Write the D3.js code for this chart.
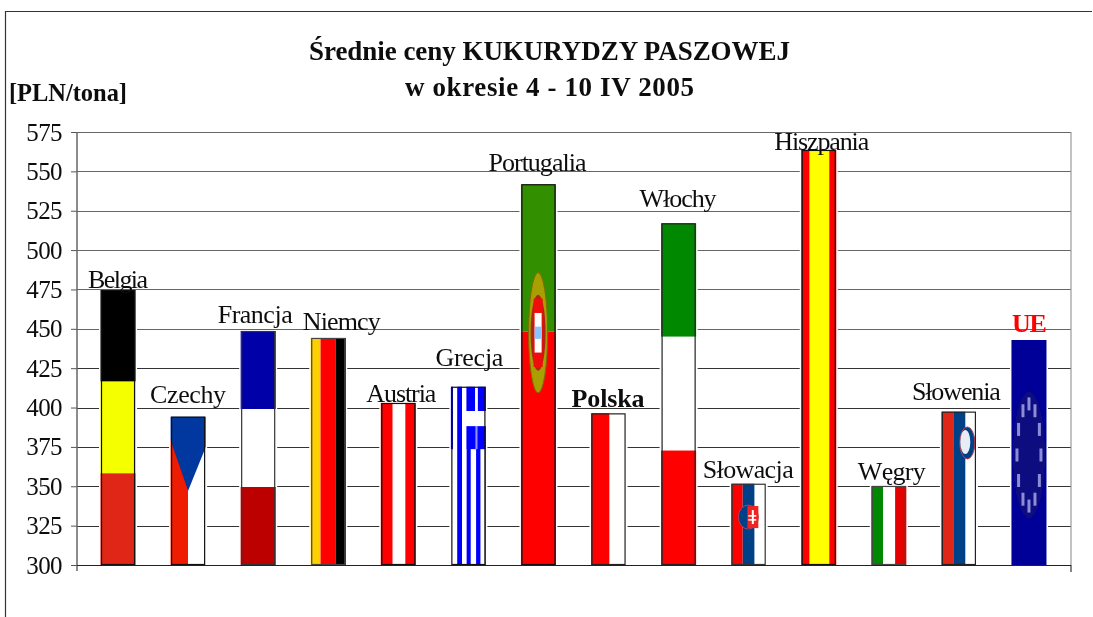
<!DOCTYPE html>
<html><head><meta charset="utf-8">
<script src="https://cdn.jsdelivr.net/npm/d3@7"></script>
<style>
html,body{margin:0;padding:0;background:#fff;overflow:hidden}
svg{display:block}
text{font-family:"Liberation Serif",serif;fill:#111}
</style></head><body>
<svg id="c" width="1093" height="617"></svg>
<script>
const categories = ["Belgia","Czechy","Francja","Niemcy","Austria","Grecja","Portugalia","Polska","Włochy","Słowacja","Hiszpania","Węgry","Słowenia","UE"];
const prices = [474.7,394.2,448.6,444.2,402.9,413.2,541.8,396.3,517,351.6,563.6,350.2,397.4,442.9];
const yTicks = [300,325,350,375,400,425,450,475,500,525,550,575];
const titleLines = ["Średnie ceny KUKURYDZY PASZOWEJ","w okresie 4 - 10 IV 2005"];
const unitLabel = "[PLN/tona]";
// label placement relative to bar: dx, baseline gap above bar top, text width
const labelDx = [0,0,-3,13.5,3,1,-1,-.5,-.5,-.5,3,3,-2.5,.5];
const labelGap = [2,13.5,8,8,1,20.5,13.5,6,16.5,6,0,6,12,8];
const labelW = [60,76,75,78,70,68,98,73,77,91,95,68,89,35];

const W=1093,H=617,L=77,R=1071,T=132,B=565;
const svg=d3.select("#c");
const defs=svg.append("defs");
defs.append("filter").attr("id","soft").attr("x","-10%").attr("y","-10%").attr("width","120%").attr("height","120%")
  .append("feGaussianBlur").attr("stdDeviation",0.55);
defs.append("filter").attr("id","softText").attr("x","-5%").attr("y","-20%").attr("width","110%").attr("height","140%")
  .append("feGaussianBlur").attr("stdDeviation",0.3);

const x=d3.scaleBand().domain(categories).range([83,1064]).paddingInner(.5).paddingOuter(.25);
const y=d3.scaleLinear().domain([300,575]).range([B,T]);

// frame
svg.append("path").attr("d",`M5.5,617V11.5H1092`).attr("fill","none").attr("stroke","#333").attr("stroke-width",1.2);

// grid
svg.append("g").selectAll("line").data(yTicks).join("line")
  .attr("x1",L).attr("x2",R).attr("y1",d=>Math.round(y(d))+.5).attr("y2",d=>Math.round(y(d))+.5)
  .attr("stroke",d=>d>=450?"#666":"#333").attr("stroke-width",1.1);
svg.append("line").attr("x1",R).attr("x2",R).attr("y1",T).attr("y2",B).attr("stroke","#999").attr("stroke-width",1.2);

// flags
const RED="#ff0000",WHITE="#ffffff",NAVY="#003f87";
function vert(g,b,stops){ // stops: [[endFraction,colour],...]
  let a=0;
  stops.forEach(([e,c])=>{
    const x0=a===0?b.x-4:b.x+a*b.w, x1=e===1?b.x+b.w+4:b.x+e*b.w;
    g.append("rect").attr("x",x0).attr("y",b.y-4).attr("width",x1-x0).attr("height",b.h+8).attr("fill",c);
    a=e;
  });
}
function horiz(g,b,stops){
  let a=0;
  stops.forEach(([e,c])=>{
    const y0=a===0?b.y-4:b.y+a*b.h, y1=e===1?b.y+b.h+4:b.y+e*b.h;
    g.append("rect").attr("x",b.x-4).attr("y",y0).attr("width",b.w+8).attr("height",y1-y0).attr("fill",c);
    a=e;
  });
}
function ell(g,cx,cy,rx,ry,fill,stroke,sw){
  g.append("ellipse").attr("cx",cx).attr("cy",cy).attr("rx",rx).attr("ry",ry).attr("fill",fill)
    .attr("stroke",stroke||"none").attr("stroke-width",sw||0);
}
function box(g,x0,y0,w,h,c){g.append("rect").attr("x",x0).attr("y",y0).attr("width",w).attr("height",h).attr("fill",c);}

const flags={
  "Belgia":(g,b)=>horiz(g,b,[[1/3,"#000"],[2/3,"#f6ff00"],[1,"#e02812"]]),
  "Czechy":(g,b)=>{
    vert(g,b,[[.5,"#ee1a00"],[1,WHITE]]);
    g.append("path").attr("fill","#0038a0").attr("d",`M${b.x-4},${b.y-4}H${b.x+b.w+4}V${b.y+.14*b.h}L${b.x+b.w/2},${b.y+.5*b.h}L${b.x-4},${b.y+.08*b.h}Z`);
  },
  "Francja":(g,b)=>horiz(g,b,[[1/3,"#0000a8"],[2/3,WHITE],[1,"#bc0000"]]),
  "Niemcy":(g,b)=>vert(g,b,[[.28,"#ffd000"],[.71,RED],[1,"#000"]]),
  "Austria":(g,b)=>vert(g,b,[[.34,RED],[.7,WHITE],[1,RED]]),
  "Grecja":(g,b)=>{
    const B1="#0000ff";
    vert(g,b,[[.18,WHITE],[.32,B1],[.45,WHITE],[.57,B1],[.72,WHITE],[.85,B1],[.98,WHITE],[1,B1]]);
    box(g,b.x-4,b.y-4,b.w*.06+4,.35*b.h+4,B1);
    box(g,b.x+.45*b.w,b.y-4,b.w*.55+4,.35*b.h+4,B1);
    box(g,b.x+.69*b.w,b.y-4,b.w*.08,.14*b.h+4,WHITE);
    box(g,b.x+.32*b.w,b.y+.136*b.h,b.w*.7+4,.085*b.h,WHITE);
    box(g,b.x+.7*b.w,b.y+.22*b.h,b.w*.06,.13*b.h,"#9090ff");
  },
  "Portugalia":(g,b)=>{
    horiz(g,b,[[.387,"#339000"],[1,RED]]);
    const cx=b.x+.49*b.w, cy=b.y+.39*b.h;
    ell(g,cx,cy,9.5,.158*b.h,"#a8a000","#806a00",1);
    ell(g,cx,cy,7.5,.1*b.h,"#b02818");
    box(g,cx-4.5,cy-.09*b.h,9,.18*b.h,"#f01008");
    box(g,cx-3.5,cy-.052*b.h,7,.104*b.h,WHITE);
    box(g,cx-3.5,cy-.016*b.h,7,.032*b.h,"#88c4ff");
  },
  "Polska":(g,b)=>vert(g,b,[[.53,RED],[1,WHITE]]),
  "Włochy":(g,b)=>horiz(g,b,[[.332,"#008800"],[.665,WHITE],[1,RED]]),
  "Słowacja":(g,b)=>{
    vert(g,b,[[.33,RED],[.67,NAVY],[1,WHITE]]);
    const cx=b.x+.49*b.w, cy=b.y+.41*b.h;
    ell(g,cx,cy,10,12,NAVY,"#b04060",1);
    box(g,cx-1,cy-11,11,22,"#f02020");
    box(g,cx+3.5,cy-7,2,14,WHITE);
    box(g,cx,cy-2,8,1.6,WHITE);
    box(g,cx,cy+2,8,1.6,WHITE);
  },
  "Hiszpania":(g,b)=>vert(g,b,[[.24,RED],[.8,"#ffff00"],[1,RED]]),
  "Węgry":(g,b)=>vert(g,b,[[.34,"#008800"],[.68,WHITE],[1,"#e40000"]]),
  "Słowenia":(g,b)=>{
    vert(g,b,[[.34,"#e02812"],[.69,NAVY],[1,WHITE]]);
    const cx=b.x+.74*b.w, cy=b.y+.204*b.h;
    ell(g,cx,cy,7.5,16,NAVY,"#c04050",1);
    ell(g,cx-2,cy-1,5,12,"#e8ecf4");
  },
  "UE":(g,b)=>{
    horiz(g,b,[[1,"#000099"]]);
    const cx=b.x+.5*b.w, cy=b.y+.511*b.h, rx=12, ry=.227*b.h;
    ell(g,cx,cy,rx+4,ry+12,"#0c0c80");
    d3.range(12).forEach(i=>{
      const a=i/12*2*Math.PI;
      box(g,cx+rx*Math.sin(a)-1.5,cy-ry*Math.cos(a)-6.5,3,13,"#8c8cd8");
    });
  }
};
const outline={"UE":null,"Belgia":"#111","Czechy":"#111","Francja":"#333","Niemcy":"#444","Austria":"#111","Grecja":"#111",
  "Portugalia":"#111","Polska":"#222","Włochy":"#222","Słowacja":"#333","Hiszpania":"#111","Węgry":"#444","Słowenia":"#222"};

const bars=svg.append("g").selectAll("g").data(categories).join("g");
bars.each(function(c,i){
  const g=d3.select(this);
  const b={x:x(c),y:y(prices[i]),w:x.bandwidth(),h:B-y(prices[i])};
  // white halo that breaks the gridlines next to each bar
  g.append("rect").attr("x",b.x-1.5).attr("y",b.y).attr("width",b.w+3).attr("height",b.h).attr("fill","#fff");
  const id="clip"+i;
  defs.append("clipPath").attr("id",id).append("rect").attr("x",b.x).attr("y",b.y).attr("width",b.w).attr("height",b.h);
  const inner=g.append("g").attr("clip-path",`url(#${id})`).append("g").attr("filter","url(#soft)");
  flags[c](inner,b);
  if(outline[c]) g.append("rect").attr("x",b.x+1).attr("y",b.y+.5).attr("width",b.w-2).attr("height",b.h-1)
    .attr("fill","none").attr("stroke",outline[c]).attr("stroke-width",1.2);
});

// axes
const yAxis=d3.axisLeft(y).tickValues(yTicks).tickSize(6).tickPadding(9);
const ga=svg.append("g").attr("transform",`translate(${L},0)`).call(yAxis);
ga.select(".domain").remove();
ga.selectAll("line").attr("stroke","#555");
ga.selectAll("text").attr("font-size",25).attr("font-family","Liberation Serif").attr("fill","#111").attr("dy","0.32em")
  .attr("letter-spacing","-0.6").attr("filter","url(#softText)");
svg.append("line").attr("x1",L).attr("x2",L).attr("y1",T).attr("y2",B+6).attr("stroke","#666").attr("stroke-width",1.5);
svg.append("line").attr("x1",L).attr("x2",R).attr("y1",B+.5).attr("y2",B+.5).attr("stroke","#222").attr("stroke-width",1.1);
svg.append("line").attr("x1",R).attr("x2",R).attr("y1",B).attr("y2",B+7).attr("stroke","#222").attr("stroke-width",1.1);

// value labels
svg.append("g").selectAll("text").data(categories).join("text")
  .attr("x",(c,i)=>x(c)+x.bandwidth()/2+labelDx[i])
  .attr("y",(c,i)=>y(prices[i])-labelGap[i])
  .attr("text-anchor","middle").attr("font-size",26)
  .attr("textLength",(c,i)=>labelW[i]).attr("lengthAdjust","spacing")
  .attr("font-weight",c=>c==="Polska"||c==="UE"?"bold":"normal")
  .style("fill",c=>c==="UE"?"#ff0000":"#111")
  .attr("filter","url(#softText)")
  .text(c=>c);

// titles
const titleY=[60,96], titleW=[481,289];
svg.append("g").selectAll("text").data(titleLines).join("text")
  .attr("x",549.5).attr("y",(d,i)=>titleY[i]).attr("text-anchor","middle")
  .attr("font-size",27).attr("font-weight","bold")
  .attr("textLength",(d,i)=>titleW[i]).attr("lengthAdjust","spacing")
  .attr("filter","url(#softText)").text(d=>d);
svg.append("text").attr("x",9).attr("y",101).attr("font-size",24.5).attr("font-weight","bold")
  .attr("textLength",118).attr("filter","url(#softText)").text(unitLabel);
</script>
</body></html>
